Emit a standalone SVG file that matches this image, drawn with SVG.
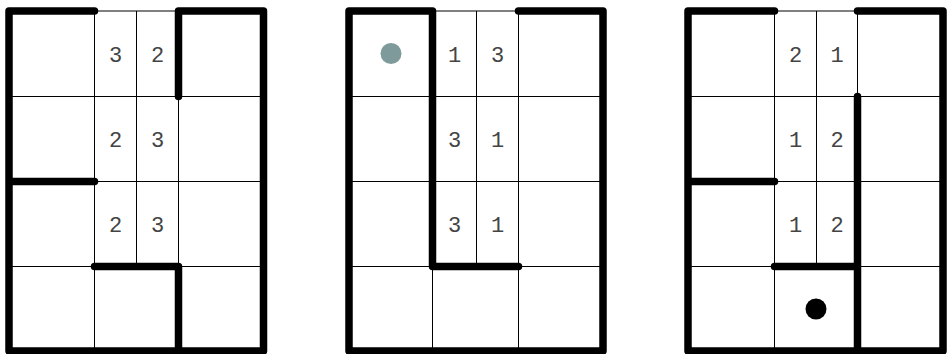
<svg xmlns="http://www.w3.org/2000/svg" width="947" height="354" viewBox="0 0 947 354">
<style>
.thin{stroke:#000;stroke-width:1;fill:none}
.wall{stroke:#000;stroke-width:7.5;fill:none;stroke-linecap:round;stroke-linejoin:round}
.num{font-family:"Liberation Mono","DejaVu Sans Mono",monospace;font-size:22px;fill:#444;text-anchor:middle}
</style>
<rect width="947" height="354" fill="#fff"/>
<g id="grid1">
<path class="thin" d="M9 96.5H263.5M9 181.5H263.5M9 266.5H263.5M94.5 11H178.5M94.5 11V351M178.5 11V351M136.5 11V266.5"/>
<path class="wall" d="M94.5 11H9V351H263.5V11H178.5V96.5M9 181.5H94.5M94.5 266.5H178.5V351"/>
<text class="num" x="115.5" y="61.5">3</text><text class="num" x="157.5" y="61.5">2</text>
<text class="num" x="115.5" y="146.5">2</text><text class="num" x="157.5" y="146.5">3</text>
<text class="num" x="115.5" y="231.5">2</text><text class="num" x="157.5" y="231.5">3</text>
</g>
<g id="grid2">
<path class="thin" d="M349 96.5H603M349 181.5H603M349 266.5H603M432.5 11H518.5M432.5 11V351M518.5 11V351M476.5 11V266.5"/>
<path class="wall" d="M432.5 11H349V351H603V11H518.5M432.5 11V266.5H518.5"/>
<circle cx="391" cy="53.5" r="10.5" fill="#7f9a9a"/>
<text class="num" x="454.5" y="61.5">1</text><text class="num" x="497.5" y="61.5">3</text>
<text class="num" x="454.5" y="146.5">3</text><text class="num" x="497.5" y="146.5">1</text>
<text class="num" x="454.5" y="231.5">3</text><text class="num" x="497.5" y="231.5">1</text>
</g>
<g id="grid3">
<path class="thin" d="M688 96.5H943M688 181.5H943M688 266.5H943M774.5 11H857.5M774.5 11V351M857.5 11V351M816.5 11V266.5"/>
<path class="wall" d="M774.5 11H688V351H943V11H857.5M857.5 96.5V351M688 181.5H774.5M774.5 266.5H857.5"/>
<circle cx="816" cy="309" r="10.5" fill="#000"/>
<text class="num" x="795.5" y="61.5">2</text><text class="num" x="837" y="61.5">1</text>
<text class="num" x="795.5" y="146.5">1</text><text class="num" x="837" y="146.5">2</text>
<text class="num" x="795.5" y="231.5">1</text><text class="num" x="837" y="231.5">2</text>
</g>
</svg>
